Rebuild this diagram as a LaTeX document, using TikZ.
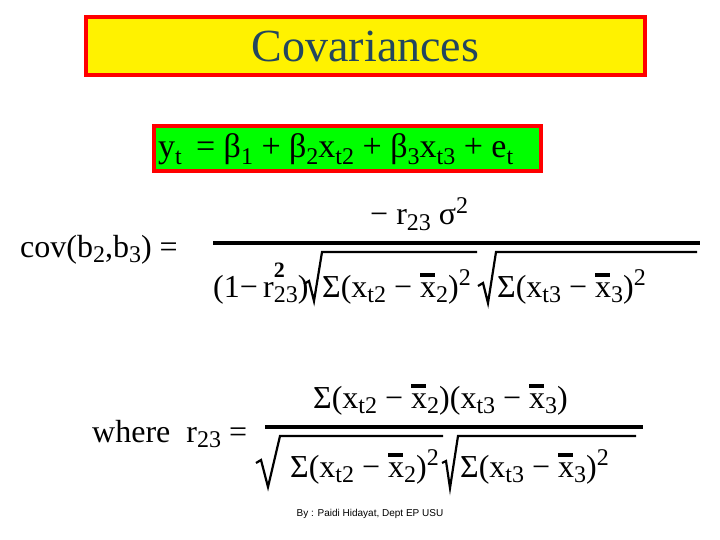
\documentclass[tikz,border=0pt]{standalone}
\usepackage{fontspec}
\setmainfont{Liberation Serif}
\newfontfamily\footfont{Liberation Sans}
\definecolor{titleblue}{RGB}{35,70,95}
\newcommand{\lo}[1]{\raisebox{-0.4ex}{\fontsize{24}{24}\selectfont #1}}
\newcommand{\hi}[1]{\raisebox{0.75ex}{\fontsize{24}{24}\selectfont #1}}
\newcommand{\xb}[1]{\rlap{\rule[0.62em]{0.45em}{4pt}}x\lo{#1}}
\newcommand{\mn}{\char"2212}
\begin{document}
\begin{tikzpicture}[x=1pt,y=-1pt,
  txt/.style={anchor=base west,inner sep=0pt,font=\fontsize{32}{32}\selectfont},
  bar/.style={line width=4pt},
  rt/.style={line width=2.2pt,line join=miter}]
\useasboundingbox (0,0) rectangle (720,540);
\node[draw=red,line width=4pt,fill=yellow,minimum width=559pt,minimum height=58pt,anchor=north west,font=\fontsize{46}{46}\selectfont,text=titleblue] (title) at (84,15) {Covariances};
\node[draw=red,line width=4pt,fill=green,minimum width=387pt,minimum height=45pt,anchor=north west,inner sep=0pt] (model) at (152,124) {};
\node[txt,font=\fontsize{34}{34}\selectfont] (eq) at (158,158) {y\lo{t} \,= β\lo{1} + β\lo{2}x\lo{t2} + β\lo{3}x\lo{t3} + e\lo{t}};
\node[txt] (cov) at (20,257) {cov(b\lo{2},b\lo{3}) =};
\node[txt] (num1) at (370,225) {\mn\ r\lo{23} σ\hi{2}};
\draw[bar] (213,243) -- (700,243);
\node[txt] (d0) at (213,297) {(1\mn\,r\rlap{\raisebox{0.6em}{\fontsize{22}{22}\selectfont\bfseries 2}}\lo{23})};
\draw[rt] (304,284) -- (309,281) -- (314,301) -- (322,252) -- (477,252);
\node[txt] (d1) at (322,297) {Σ(x\lo{t2} \mn\ \xb{2})\hi{2}};
\draw[rt] (478,286) -- (483,283) -- (488,303) -- (496,252) -- (697,252);
\node[txt] (d2) at (497,297) {Σ(x\lo{t3} \mn\ \xb{3})\hi{2}};
\node[txt] (where) at (92,442) {where \ r\lo{23} =};
\node[txt] (num2) at (313,408) {Σ(x\lo{t2} \mn\ \xb{2})(x\lo{t3} \mn\ \xb{3})};
\draw[bar] (265,427) -- (643,427);
\draw[rt] (256,463) -- (261,460) -- (268,487) -- (280,436) -- (443,436);
\draw[rt] (442,463) -- (446,461) -- (450,488) -- (458,436) -- (636,436);
\node[txt] (e1) at (290,477) {Σ(x\lo{t2} \mn\ \xb{2})\hi{2}};
\node[txt] (e2) at (460,477) {Σ(x\lo{t3} \mn\ \xb{3})\hi{2}};
\node[font=\footfont\fontsize{10}{10}\selectfont,inner sep=0pt] (foot) at (370,514) {By : Paidi Hidayat, Dept EP USU};
\end{tikzpicture}
\end{document}
